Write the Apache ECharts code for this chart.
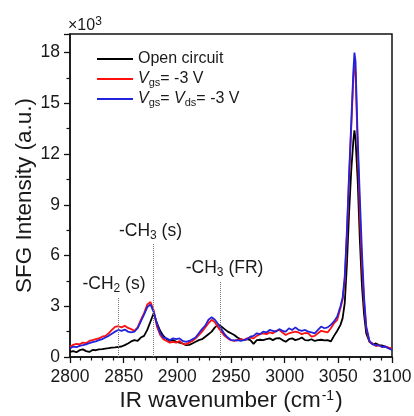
<!DOCTYPE html>
<html><head><meta charset="utf-8">
<script src="https://cdn.jsdelivr.net/npm/echarts@6/dist/echarts.min.js"></script>
<style>html,body{margin:0;padding:0;background:#fff}#c{width:414px;height:416px}</style>
</head><body><div id="c"></div>
<script>
const wavenumber = [
2800,2803,2806,2809,2812,2815,2818,2821,2824,2827,
2830,2833,2836,2839,2842,2845,2848,2851,2854,2857,
2860,2863,2866,2869,2872,2875,2878,2881,2884,2887,
2890,2893,2896,2899,2902,2905,2908,2911,2914,2917,
2920,2923,2926,2929,2932,2935,2938,2941,2944,2947,
2950,2953,2956,2959,2962,2965,2968,2971,2974,2977,
2980,2983,2986,2989,2992,2995,2998,3001,3004,3007,
3010,3013,3016,3019,3022,3025,3028,3031,3034,3037,
3040,3043,3046,3049,3052,3054,3056,3058,3060,3062,
3064,3065,3066,3068,3070,3072,3074,3076,3079,3082,
3085,3088,3091,3094,3097,3100];
const openCircuit = [
0.30,0.35,0.28,0.40,0.45,0.35,0.30,0.42,0.40,0.45,
0.47,0.50,0.52,0.55,0.57,0.60,0.62,0.70,0.80,0.92,
1.00,0.95,1.15,1.25,1.60,2.10,2.60,2.00,1.55,1.25,
1.05,0.95,1.00,0.90,0.85,0.80,0.70,0.72,0.80,0.90,
1.00,1.05,1.20,1.35,1.50,1.75,1.90,1.80,1.65,1.50,
1.40,1.30,1.15,1.05,1.00,1.05,1.00,0.78,1.00,1.02,
1.00,1.05,1.10,1.00,1.10,1.12,1.00,0.90,1.05,1.10,
1.00,1.05,1.15,1.00,0.98,1.05,0.95,1.00,1.02,0.98,
1.00,0.92,1.25,1.55,1.90,2.30,3.20,5.50,8.50,11.0,
12.8,13.4,12.9,10.5,7.00,4.20,2.50,1.40,0.90,0.75,
0.80,0.70,0.68,0.60,0.52,0.45];
const vgs = [
0.60,0.72,0.78,0.75,0.85,0.82,0.95,1.00,1.05,1.10,
1.20,1.25,1.40,1.60,1.78,1.82,1.75,1.85,1.72,1.65,
1.55,1.75,2.20,2.60,3.10,3.25,2.75,1.80,1.30,1.05,
0.95,0.85,0.90,0.85,0.95,0.78,0.75,0.85,0.95,1.10,
1.30,1.50,1.75,2.00,2.20,2.05,1.75,1.50,1.25,1.10,
1.00,0.95,1.00,1.05,1.00,1.10,1.15,1.10,1.25,1.35,
1.40,1.35,1.45,1.40,1.55,1.60,1.45,1.30,1.40,1.45,
1.50,1.45,1.35,1.42,1.40,1.20,1.25,1.40,1.55,1.50,
1.45,1.70,2.00,2.20,2.90,3.40,4.50,7.20,10.5,13.5,
16.5,17.3,16.8,12.5,8.50,5.50,3.20,1.70,0.90,0.80,
0.65,0.70,0.58,0.62,0.55,0.50];
const vgsVds = [
0.50,0.62,0.58,0.66,0.70,0.75,0.82,0.88,0.92,1.00,
1.06,1.15,1.25,1.38,1.50,1.60,1.55,1.62,1.50,1.45,
1.50,1.70,2.10,2.50,2.95,3.10,2.65,1.95,1.40,1.15,
1.10,1.00,1.10,1.05,1.10,0.95,0.90,0.95,1.05,1.15,
1.40,1.65,1.85,2.20,2.35,2.20,1.95,1.65,1.35,1.15,
1.00,0.98,1.00,0.95,1.00,1.05,1.20,1.25,1.40,1.35,
1.50,1.45,1.60,1.55,1.50,1.65,1.55,1.50,1.70,1.60,
1.75,1.60,1.55,1.60,1.50,1.45,1.40,1.60,1.80,1.70,
1.75,1.90,2.10,2.40,3.00,3.50,4.80,7.50,10.8,13.8,
16.9,18.0,17.5,13.0,9.50,6.20,3.50,1.80,0.95,0.75,
0.70,0.68,0.60,0.62,0.50,0.42];
const seriesNames = ['Open circuit', 'Vgs=-3V', 'Vgs=Vds=-3V'];
const peakWn = [2845, 2878, 2940];
const peakLineTop = [3.55, 6.7, 4.45];
const peakLabels = ['-CH{s|2} (s)', '-CH{s|3} (s)', '-CH{s|3} (FR)'];
const peakLabelWn = [2841, 2875, 2944];
const peakLabelY = [4.32, 7.42, 5.26];

const FONT = '"Liberation Sans", Arial, sans-serif';
const TXT = '#1a1a1a';
const chart = echarts.init(document.getElementById('c'));
const pair = arr => wavenumber.map((w, i) => [w, arr[i]]);
const legendFmt = {
  'Open circuit': 'Open circuit',
  'Vgs=-3V': '{i|V}{s|gs}= -3 V',
  'Vgs=Vds=-3V': '{i|V}{s|gs}= {i|V}{s|ds}= -3 V'
};
const colors = ['#000000', '#ff1010', '#2323dc'];
const lineSeries = [openCircuit, vgs, vgsVds].map((arr, k) => ({
  name: seriesNames[k], type: 'line', data: pair(arr), symbol: 'none',
  lineStyle: {color: colors[k], width: 1.8}, itemStyle: {color: colors[k]},
  z: 2 + k, animation: false
}));
lineSeries[0].markLine = {
  silent: true, symbol: 'none', animation: false,
  lineStyle: {color: '#777', type: 'dotted', width: 1},
  label: {show: false},
  data: peakWn.map((w, i) => [{coord: [w, 0]}, {coord: [w, peakLineTop[i]]}])
};
const notes = {
  type: 'scatter', symbolSize: 0, silent: true, animation: false,
  itemStyle: {opacity: 1, color: TXT},
  data: peakLabelWn.map((w, i) => ({value: [w, peakLabelY[i]], name: peakLabels[i]})),
  label: {
    show: true, position: 'inside', formatter: p => p.name,
    fontFamily: FONT, fontSize: 17.5, color: TXT,
    rich: {s: {fontSize: 12, verticalAlign: 'bottom', padding: [9, 0, 0, 0], fontFamily: FONT, color: TXT}}
  }
};
chart.setOption({
  animation: false,
  grid: {left: 70, top: 34, right: 22, bottom: 59, show: true, borderColor: '#111', borderWidth: 1.5,
    containLabel: false, outerBoundsMode: 'none'},
  legend: {
    orient: 'vertical', left: 92, top: 45, itemWidth: 36, itemHeight: 2, itemGap: 2,
    icon: 'rect',
    data: seriesNames, selectedMode: false,
    formatter: n => legendFmt[n],
    textStyle: {
      fontFamily: FONT, fontSize: 16, color: TXT, lineHeight: 18,
      rich: {
        i: {fontStyle: 'italic', fontSize: 16, fontFamily: FONT, color: TXT},
        s: {fontSize: 11, verticalAlign: 'bottom', padding: [7, 0, 0, 0], fontFamily: FONT, color: TXT}
      }
    }
  },
  graphic: [{
    type: 'text', left: 68, top: 16,
    style: {
      text: '×10{p|3}', fontFamily: FONT, fontSize: 16, fill: TXT,
      rich: {p: {fontSize: 12, verticalAlign: 'top', padding: [0, 0, 8, 0], fontFamily: FONT, fill: TXT}}
    }
  }],
  xAxis: {
    type: 'value', min: 2800, max: 3100, interval: 50,
    name: 'IR wavenumber (cm{p|-1})', nameLocation: 'middle', nameGap: 32, nameMoveOverlap: false,
    nameTextStyle: {
      fontFamily: FONT, fontSize: 22.5, color: TXT,
      rich: {p: {fontSize: 14, verticalAlign: 'top', padding: [0, 1, 10, 1], fontFamily: FONT, color: TXT}}
    },
    axisLine: {lineStyle: {color: '#111', width: 1.5}},
    axisTick: {show: true, length: 6, lineStyle: {color: '#111', width: 1.3}},
    minorTick: {show: true, splitNumber: 5, length: 3.5, lineStyle: {color: '#111', width: 1.2}},
    axisLabel: {fontFamily: FONT, fontSize: 17.5, color: TXT, margin: 11, formatter: v => String(v)},
    splitLine: {show: false}
  },
  yAxis: {
    type: 'value', min: 0, max: 19.1, interval: 3,
    name: 'SFG Intensity (a.u.)', nameLocation: 'middle', nameGap: 34, nameMoveOverlap: false,
    nameTextStyle: {fontFamily: FONT, fontSize: 22.5, color: TXT},
    axisLine: {show: true, lineStyle: {color: '#111', width: 1.5}},
    axisTick: {show: true, length: 6, lineStyle: {color: '#111', width: 1.3}},
    minorTick: {show: true, splitNumber: 2, length: 3.5, lineStyle: {color: '#111', width: 1.2}},
    axisLabel: {fontFamily: FONT, fontSize: 17.5, color: TXT, margin: 10,
      formatter: v => (Math.abs(v % 3) < 1e-9 ? String(v) : '')},
    splitLine: {show: false}
  },
  series: [...lineSeries, notes]
});
</script></body></html>
